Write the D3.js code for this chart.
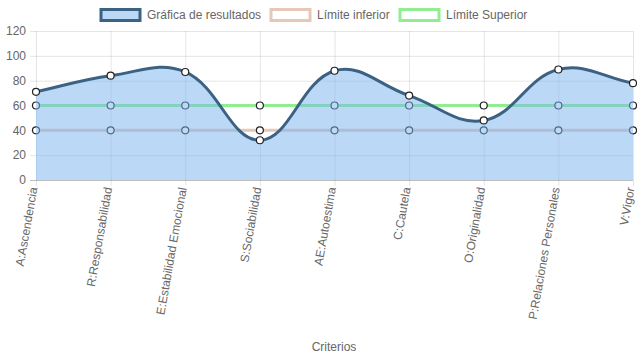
<!DOCTYPE html>
<html><head><meta charset="utf-8">
<script src="https://cdn.jsdelivr.net/npm/d3@7/dist/d3.min.js"></script>
<style>body{margin:0;background:#fff}svg{display:block}text{font-family:"Liberation Sans",Arial,Helvetica,sans-serif}</style>
</head><body>
<svg id="c" width="637" height="359"></svg>
<script>
const categories = ["A:Ascendencia","R:Responsabilidad","E:Estabilidad Emocional","S:Sociabilidad","AE:Autoestima","C:Cautela","O:Originalidad","P:Relaciones Personales","V:Vigor"];
const resultados = [71, 84, 87, 32, 88, 68, 48, 89, 78];
const limiteInferior = [40, 40, 40, 40, 40, 40, 40, 40, 40];
const limiteSuperior = [60, 60, 60, 60, 60, 60, 60, 60, 60];
const yTicks = [0, 20, 40, 60, 80, 100, 120];
const seriesNames = ["Gráfica de resultados", "Límite inferior", "Límite Superior"];

const svg = d3.select("#c");
const L = 36, R = 633, T = 31, B = 180;
const x = d3.scalePoint().domain(categories).range([L, R]);
const y = d3.scaleLinear().domain([0, 120]).range([B, T]);
const grid = "rgba(0,0,0,0.1)";
const txt = "#666";

// grid
const g = svg.append("g");
yTicks.forEach(t => {
  g.append("line").attr("x1", L - 6).attr("x2", R).attr("y1", y(t) + 0.5).attr("y2", y(t) + 0.5)
    .attr("stroke", t === 0 ? "rgba(0,0,0,0.25)" : grid).attr("stroke-width", 1);
  g.append("text").attr("x", L - 10).attr("y", y(t)).attr("dy", "0.35em").attr("text-anchor", "end")
    .attr("font-size", 12).attr("fill", txt).text(t);
});
categories.forEach(c => {
  g.append("line").attr("x1", x(c) + 0.5).attr("x2", x(c) + 0.5).attr("y1", T).attr("y2", B + 6)
    .attr("stroke", grid);
  g.append("text").attr("transform", `translate(${x(c) + 1.5},${B + 8}) rotate(-80)`)
    .attr("text-anchor", "end").attr("font-size", 12).attr("fill", txt).text(c);
});

// chart.js-like spline curve (tension 0.4)
function spline(data) {
  const pts = data.map((v, i) => [x(categories[i]), y(v)]);
  const t = 0.4;
  const cps = pts.map((p, i) => {
    const prev = pts[i - 1] || p, next = pts[i + 1] || p;
    const d01 = Math.hypot(p[0] - prev[0], p[1] - prev[1]);
    const d12 = Math.hypot(next[0] - p[0], next[1] - p[1]);
    let s01 = d01 / (d01 + d12), s12 = d12 / (d01 + d12);
    if (isNaN(s01)) s01 = 0; if (isNaN(s12)) s12 = 0;
    const fa = t * s01, fb = t * s12;
    return {
      prev: [p[0] - fa * (next[0] - prev[0]), p[1] - fa * (next[1] - prev[1])],
      next: [p[0] + fb * (next[0] - prev[0]), p[1] + fb * (next[1] - prev[1])]
    };
  });
  const path = d3.path();
  path.moveTo(pts[0][0], pts[0][1]);
  for (let i = 1; i < pts.length; i++) {
    const a = cps[i - 1].next, b = cps[i].prev;
    path.bezierCurveTo(a[0], a[1], b[0], b[1], pts[i][0], pts[i][1]);
  }
  return path.toString();
}

function drawPoints(data) {
  svg.append("g").selectAll("circle").data(data).join("circle")
    .attr("cx", (d, i) => x(categories[i])).attr("cy", d => y(d)).attr("r", 3.5)
    .attr("fill", "#fff").attr("stroke", "#222").attr("stroke-width", 1.2);
}

// upper limit
svg.append("path").attr("d", spline(limiteSuperior)).attr("fill", "none").attr("stroke", "#90ee90").attr("stroke-width", 3);
drawPoints(limiteSuperior);
// lower limit
svg.append("path").attr("d", spline(limiteInferior)).attr("fill", "none").attr("stroke", "#e6c8b9").attr("stroke-width", 3);
drawPoints(limiteInferior);
// main
const mainD = spline(resultados);
svg.append("path").attr("d", mainD + `L${x(categories[categories.length - 1])},${y(0)}L${x(categories[0])},${y(0)}Z`)
  .attr("fill", "rgba(120,180,240,0.5)");
svg.append("path").attr("d", mainD).attr("fill", "none").attr("stroke", "#3c6283").attr("stroke-width", 3);
drawPoints(resultados);

// legend
const leg = [
  {x: 100, fill: "rgba(120,180,240,0.5)", stroke: "#3c6283"},
  {x: 270, fill: "#fff", stroke: "#e6c8b9"},
  {x: 399, fill: "#fff", stroke: "#90ee90"}
];
leg.forEach((l, i) => {
  svg.append("rect").attr("x", l.x + 1).attr("y", 9.5).attr("width", 39).attr("height", 11)
    .attr("fill", l.fill).attr("stroke", l.stroke).attr("stroke-width", 3);
  svg.append("text").attr("x", l.x + 47).attr("y", 15).attr("dy", "0.35em")
    .attr("font-size", 12).attr("fill", txt).text(seriesNames[i]);
});

svg.append("text").attr("x", 334).attr("y", 347).attr("dy", "0.35em").attr("text-anchor", "middle")
  .attr("font-size", 12).attr("fill", txt).text("Criterios");
</script>
</body></html>
